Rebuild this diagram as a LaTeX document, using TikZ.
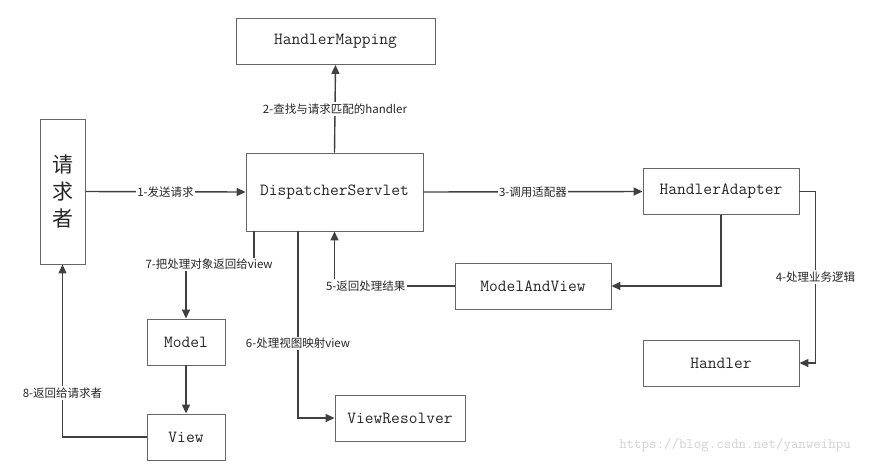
\documentclass[tikz,border=0pt]{standalone}
\usepackage{fontspec}
\newfontfamily\cjk{Noto Sans CJK SC}
\usetikzlibrary{arrows.meta}

\begin{document}
\begin{tikzpicture}[
      x=1pt, y=-1pt,
      box/.style={draw=black!60, line width=0.9pt, inner sep=0pt, minimum height=46pt,
        text=black!85, font=\ttfamily\fontsize{17}{17}\selectfont},
      trans/.style={draw=black!75, line width=1.4pt, -{Triangle[length=9pt,width=8pt]}},
      link/.style={draw=black!75, line width=1.4pt},
      lbl/.style={fill=white, inner sep=1.5pt, text=black!85, font=\cjk\fontsize{11.5}{12}\selectfont}
    ]
    \useasboundingbox (0,0) rectangle (878,475);
    % Draw the boxes.
    \node[box, minimum width=45pt, minimum height=145pt, align=center,
      font=\cjk\fontsize{21}{27}\selectfont] (req) at (62.5,191.5) {请\\求\\者};
    \node[box, minimum width=199pt] (map) at (335.5,41.5) {HandlerMapping};
    \node[box, minimum width=177pt, minimum height=78pt] (disp) at (334.5,192) {DispatcherServlet};
    \node[box, minimum width=156pt] (ada) at (721,191.5) {HandlerAdapter};
    \node[box, minimum width=156pt] (mav) at (533,286) {ModelAndView};
    \node[box, minimum width=156pt] (hand) at (721,363) {Handler};
    \node[box, minimum width=78pt] (model) at (186,342) {Model};
    \node[box, minimum width=78pt] (view) at (186,437) {View};
    \node[box, minimum width=130pt] (vr) at (400,418) {ViewResolver};
    % Draw the transitions.
    \draw[trans] (req.east) -- (disp.west) node[midway,lbl] {1-发送请求};
    \draw[trans] (disp.north) -- (map.south) node[midway,lbl] {2-查找与请求匹配的handler};
    \draw[trans] (disp.east) -- (ada.west) node[midway,lbl] {3-调用适配器};
    \draw[trans] (ada.east) -- ++(16,0) coordinate (c4) -- (c4 |- hand.east)
      node[pos=0.5,lbl] {4-处理业务逻辑} -- (hand.east);
    \draw[trans] (ada.south) |- (mav.east);
    \draw[trans] (mav.west) -| (disp.south) node[pos=0.37,lbl] {5-返回处理结果};
    \draw[trans] ([xshift=-36.5pt]disp.south) |- (vr.west) node[pos=0.3,lbl] {6-处理视图映射view};
    \draw[trans] ([xshift=-80.5pt]disp.south) -- ++(0,33) -| (model.north)
      node[pos=0.33,lbl] {7-把处理对象返回给view};
    \draw[trans] (model.south) -- (view.north);
    \draw[trans] (view.west) -| (req.south) node[pos=0.627,lbl] {8-返回给请求者};
    % Watermark.
    \node[text=black!18, font=\ttfamily\fontsize{14.5}{15}\selectfont] (mark) at (735,445)
      {https://blog.csdn.net/yanweihpu};
\end{tikzpicture}
\end{document}
